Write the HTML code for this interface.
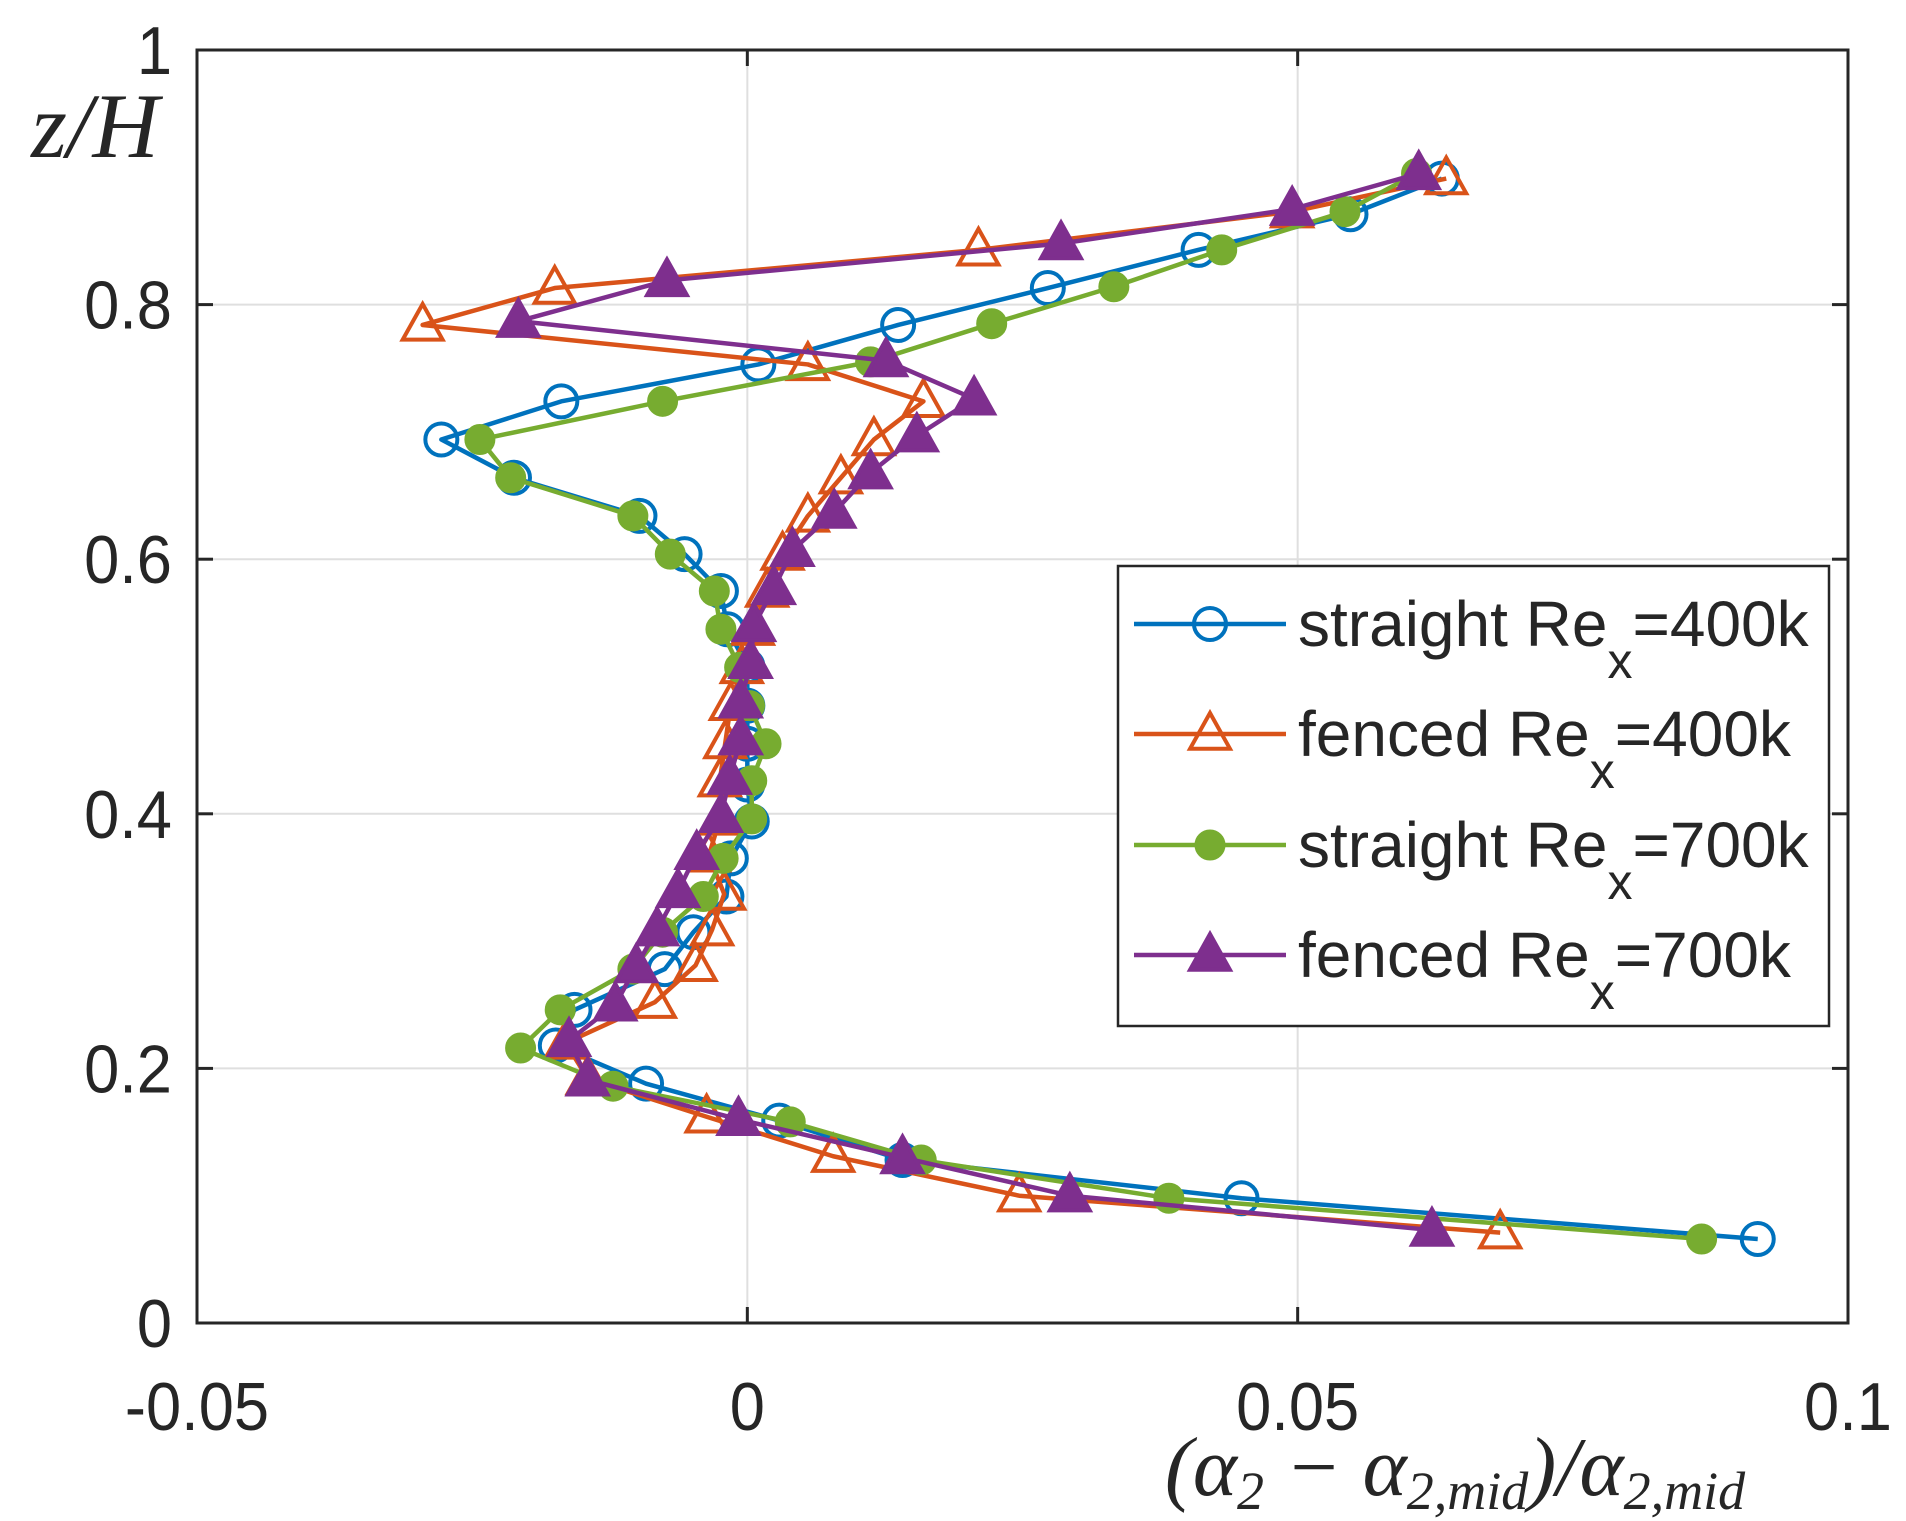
<!DOCTYPE html>
<html><head><meta charset="utf-8"><style>
html,body{margin:0;padding:0;background:#fff;}
svg{display:block;font-family:"Liberation Sans",sans-serif;}
</style></head><body>
<svg id="chart" width="1906" height="1521" viewBox="0 0 1906 1521" xmlns="http://www.w3.org/2000/svg">
<rect width="1906" height="1521" fill="#fff"/>
<g id="grid"></g>
<g id="series"></g>
<rect x="197" y="50" width="1651" height="1273" fill="none" stroke="#262626" stroke-width="3"/>
<g id="ticks"></g>
<text x="95" y="157" font-family="Liberation Serif,serif" font-style="italic" font-size="92" text-anchor="middle" fill="#262626">z/H</text>
<text x="1455" y="1495" font-family="Liberation Serif,serif" font-style="italic" font-size="84" text-anchor="middle" fill="#262626">(α<tspan font-size="54" dy="14">2</tspan><tspan dy="-14"> − α</tspan><tspan font-size="54" dy="14">2,mid</tspan><tspan dy="-14">)/α</tspan><tspan font-size="54" dy="14">2,mid</tspan></text>
<g id="legend"></g>
</svg>
<script>
const xTicks=[-0.05,0,0.05,0.1];
const xTickLabels=["-0.05","0","0.05","0.1"];
const yTicks=[0,0.2,0.4,0.6,0.8,1];
const yTickLabels=["0","0.2","0.4","0.6","0.8","1"];
const seriesNames=["straight Re","fenced Re","straight Re","fenced Re"];
const seriesSuffix=["=400k","=400k","=700k","=700k"];
const s1x=[0.0918,0.0449,0.0141,0.0029,-0.0092,-0.0174,-0.0157,-0.0075,-0.0049,-0.0019,-0.0015,0.0004,0.0,0.0,0.0,0.0,-0.0018,-0.0024,-0.0057,-0.0098,-0.0212,-0.0278,-0.0169,0.001,0.0137,0.0273,0.041,0.0548,0.0631];
const s1y=[0.066,0.098,0.128,0.159,0.188,0.218,0.246,0.278,0.307,0.335,0.365,0.394,0.423,0.455,0.485,0.516,0.545,0.575,0.604,0.634,0.664,0.694,0.724,0.753,0.784,0.813,0.843,0.871,0.899];
const s2x=[0.0684,0.0247,0.0078,-0.0037,-0.0145,-0.0165,-0.0084,-0.0047,-0.0032,-0.0021,-0.0035,-0.0025,-0.0025,-0.002,-0.0015,-0.0005,0.0005,0.0018,0.0032,0.0055,0.0085,0.0115,0.016,0.0055,-0.0295,-0.0175,0.021,0.0495,0.0635];
const s2y=[0.071,0.100,0.131,0.162,0.192,0.220,0.252,0.281,0.309,0.337,0.367,0.396,0.426,0.456,0.486,0.515,0.545,0.575,0.604,0.634,0.664,0.694,0.724,0.753,0.784,0.813,0.843,0.873,0.899];
const s3x=[0.0867,0.0383,0.0158,0.0039,-0.0122,-0.0206,-0.017,-0.0104,-0.0077,-0.004,-0.0022,0.0004,0.0004,0.0017,0.0002,-0.0007,-0.0024,-0.003,-0.007,-0.0104,-0.0215,-0.0243,-0.0077,0.0112,0.0222,0.0333,0.0431,0.0543,0.0608];
const s3y=[0.066,0.098,0.128,0.158,0.186,0.216,0.246,0.278,0.307,0.335,0.365,0.396,0.426,0.455,0.485,0.515,0.545,0.575,0.604,0.634,0.664,0.694,0.724,0.755,0.785,0.814,0.843,0.873,0.903];
const s4x=[0.0622,0.0293,0.0141,-0.0008,-0.0145,-0.0162,-0.012,-0.0101,-0.0082,-0.0063,-0.0046,-0.0024,-0.0016,-0.0006,-0.0006,0.0003,0.0006,0.0024,0.0041,0.0079,0.0112,0.0154,0.0206,0.0126,-0.0208,-0.0073,0.0285,0.0495,0.061];
const s4y=[0.073,0.100,0.130,0.160,0.191,0.222,0.25,0.280,0.309,0.339,0.369,0.398,0.428,0.459,0.488,0.519,0.548,0.577,0.607,0.637,0.668,0.697,0.726,0.756,0.787,0.819,0.848,0.875,0.903];

const NS="http://www.w3.org/2000/svg";
const L=197,R=1848,T=50,B=1323;
const X=v=>L+(v+0.05)/0.15*(R-L);
const Y=v=>B-v*(B-T);
function mk(tag,parent,attrs){const e=document.createElementNS(NS,tag);for(const k in attrs)e.setAttribute(k,attrs[k]);parent.appendChild(e);return e;}
const grid=document.getElementById('grid'),ticks=document.getElementById('ticks');
xTicks.forEach((v,i)=>{
  const g=mk('line',grid,{x1:X(v),x2:X(v),y1:T,y2:B,stroke:'#dfdfdf','stroke-width':2});
  
  
  const t1=mk('line',ticks,{x1:X(v),x2:X(v),y1:B,y2:B-16,stroke:'#262626','stroke-width':3});
  
  
  const t2=mk('line',ticks,{x1:X(v),x2:X(v),y1:T,y2:T+16,stroke:'#262626','stroke-width':3});
  
  
  const tx=mk('text',ticks,{x:X(v),y:1430,'font-size':68,'text-anchor':'middle',fill:'#262626',transform:`translate(${X(v)},0) scale(0.93,1) translate(${-X(v)},0)`});
  tx.textContent=xTickLabels[i];
  
  
});
yTicks.forEach((v,i)=>{
  const g=mk('line',grid,{x1:L,x2:R,y1:Y(v),y2:Y(v),stroke:'#dfdfdf','stroke-width':2});
  
  
  const t1=mk('line',ticks,{x1:L,x2:L+16,y1:Y(v),y2:Y(v),stroke:'#262626','stroke-width':3});
  
  
  const t2=mk('line',ticks,{x1:R,x2:R-16,y1:Y(v),y2:Y(v),stroke:'#262626','stroke-width':3});
  
  
  const tx=mk('text',ticks,{x:172,y:Y(v)+24,'font-size':68,'text-anchor':'end',fill:'#262626',transform:`translate(172,0) scale(0.93,1) translate(-172,0)`});
  tx.textContent=yTickLabels[i];
  
  
});
const colors=['#0072BD','#D95319','#77AC30','#7E2F8E'];
const types=['circle-open','tri-open','circle-fill','tri-fill'];
function marker(parent,type,cx,cy,color,name){
  let e;
  if(type.startsWith('circle')){
    e=mk('circle',parent,{cx:cx,cy:cy,r:type==='circle-open'?16:15,fill:type==='circle-open'?'none':color,stroke:color,'stroke-width':type==='circle-open'?4:1});
  }else{
    const s=21;
    e=mk('polygon',parent,{points:`${cx},${cy-s} ${cx-s*0.95},${cy+s*0.7} ${cx+s*0.95},${cy+s*0.7}`,fill:type==='tri-open'?'none':color,stroke:color,'stroke-width':4,'stroke-linejoin':'miter'});
  }
  
  
}
const sx=[s1x,s2x,s3x,s4x],sy=[s1y,s2y,s3y,s4y];
const sg=document.getElementById('series');
const sNames=['straight-400k','fenced-400k','straight-700k','fenced-700k'];
for(let k=0;k<4;k++){
  const g=mk('g',sg,{});
  
  
  const pts=sx[k].map((v,i)=>X(v)+','+Y(sy[k][i])).join(' ');
  const pl=mk('polyline',g,{points:pts,fill:'none',stroke:colors[k],'stroke-width':4.5,'stroke-linejoin':'round'});
  
  
  sx[k].forEach((v,i)=>marker(g,types[k],X(v),Y(sy[k][i]),colors[k],'point-'+sNames[k]));
}
const lg=document.getElementById('legend');
const box=mk('rect',lg,{x:1118,y:566,width:711,height:460,fill:'#fff',stroke:'#262626','stroke-width':2.5});


const rowY=[624,734,845,955];
for(let k=0;k<4;k++){
  const g=mk('g',lg,{});
  
  
  const ln=mk('line',g,{x1:1134,x2:1286,y1:rowY[k],y2:rowY[k],stroke:colors[k],'stroke-width':4.5});
  
  
  marker(g,types[k],1210,rowY[k],colors[k],'legend-marker');
  const t=mk('text',g,{x:1298,y:rowY[k]+22,'font-size':64,fill:'#262626'});
  
  
  t.appendChild(document.createTextNode(seriesNames[k]));
  const sub=document.createElementNS(NS,'tspan');sub.setAttribute('font-size','50');sub.setAttribute('dy','32');sub.textContent='x';t.appendChild(sub);
  const rest=document.createElementNS(NS,'tspan');rest.setAttribute('dy','-32');rest.textContent=seriesSuffix[k];t.appendChild(rest);
}
</script>
</body></html>
